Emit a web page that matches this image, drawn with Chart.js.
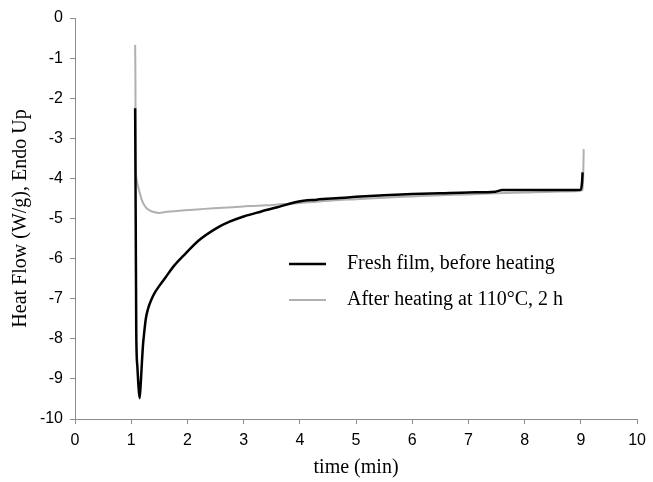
<!DOCTYPE html>
<html>
<head>
<meta charset="utf-8">
<script src="https://cdn.jsdelivr.net/npm/chart.js@4/dist/chart.umd.min.js"></script>
<style>
  html, body { margin: 0; padding: 0; background: #fff; }
</style>
</head>
<body>
<canvas id="chart" width="653" height="482"></canvas>
<script>
// DSC traces, heat flow vs time
const freshTime = [1.07, 1.08, 1.09, 1.11, 1.13, 1.15, 1.17, 1.19, 1.21, 1.23, 1.26, 1.30, 1.35, 1.42, 1.50, 1.61, 1.75, 1.97, 2.20, 2.52, 2.75, 3.00, 3.30, 3.60, 3.96, 4.30, 4.70, 5.00, 5.50, 6.00, 6.50, 7.00, 7.48, 7.60, 8.00, 8.50, 9.00, 9.02, 9.03];
const freshFlow = [-2.25, -5.0, -7.86, -8.7, -9.2, -9.48, -9.1, -8.6, -8.15, -7.86, -7.5, -7.25, -7.05, -6.85, -6.68, -6.47, -6.2, -5.87, -5.55, -5.24, -5.08, -4.95, -4.83, -4.72, -4.58, -4.53, -4.49, -4.46, -4.42, -4.39, -4.37, -4.35, -4.33, -4.29, -4.29, -4.29, -4.28, -4.1, -3.85];

const heatedTime = [1.07, 1.075, 1.08, 1.09, 1.11, 1.15, 1.20, 1.26, 1.32, 1.40, 1.50, 1.60, 1.75, 1.90, 2.10, 2.30, 2.55, 2.80, 3.10, 3.40, 3.70, 3.96, 4.30, 4.70, 5.00, 5.50, 6.00, 6.50, 7.00, 7.50, 8.00, 8.50, 8.90, 9.02, 9.04, 9.05];
const heatedFlow = [-0.67, -1.5, -3.6, -3.97, -4.12, -4.35, -4.58, -4.72, -4.79, -4.84, -4.86, -4.84, -4.82, -4.80, -4.78, -4.76, -4.74, -4.72, -4.69, -4.67, -4.64, -4.62, -4.58, -4.54, -4.52, -4.48, -4.45, -4.42, -4.40, -4.37, -4.35, -4.33, -4.32, -4.30, -4.0, -3.27];

const seriesNames = ["Fresh film, before heating", "After heating at 110\u00B0C, 2 h"];
const seriesColors = ["#000000", "#b0b0b0"];

const toPoints = (xs, ys) => xs.map((x, i) => ({ x, y: ys[i] }));

const serif = "'Liberation Serif', 'Times New Roman', serif";
const sans = "'Liberation Sans', Arial, sans-serif";
const axisGrey = "#8c8c8c";

// legend sits inside the plot, drawn by hand
const insideLegend = {
  id: "insideLegend",
  afterDraw(chart) {
    const ctx = chart.ctx;
    const rows = [264, 300];
    ctx.save();
    chart.data.datasets.forEach((ds, i) => {
      const y = rows[i];
      ctx.strokeStyle = ds.borderColor;
      ctx.lineWidth = ds.borderWidth;
      ctx.beginPath();
      ctx.moveTo(289, y);
      ctx.lineTo(326, y);
      ctx.stroke();
      ctx.fillStyle = "#000";
      ctx.font = "20px " + serif;
      ctx.textBaseline = "middle";
      ctx.fillText(ds.label, 347, y);
    });
    ctx.restore();
  }
};

new Chart(document.getElementById("chart"), {
  type: "scatter",
  data: {
    datasets: [
      {
        label: seriesNames[0],
        data: toPoints(freshTime, freshFlow),
        showLine: true,
        borderColor: seriesColors[0],
        borderWidth: 2.5,
        pointRadius: 0,
        cubicInterpolationMode: "monotone"
      },
      {
        label: seriesNames[1],
        data: toPoints(heatedTime, heatedFlow),
        showLine: true,
        borderColor: seriesColors[1],
        borderWidth: 2,
        pointRadius: 0,
        cubicInterpolationMode: "monotone"
      }
    ]
  },
  options: {
    responsive: false,
    animation: false,
    layout: { padding: { top: 18, right: 10, left: 0, bottom: 0 } },
    plugins: {
      legend: { display: false },
      tooltip: { enabled: false }
    },
    scales: {
      x: {
        type: "linear",
        min: 0,
        max: 10,
        afterFit: s => { s.height = 63; },
        ticks: { stepSize: 1, color: "#000", font: { family: sans, size: 16 }, padding: 7, maxRotation: 0 },
        grid: { drawOnChartArea: false, tickLength: 5, color: axisGrey },
        border: { color: axisGrey, width: 1 },
        title: { display: true, text: "time (min)", color: "#000", font: { family: serif, size: 20 }, padding: { top: 0, bottom: 2 } }
      },
      y: {
        min: -10,
        max: 0,
        afterFit: s => { s.width = 75; },
        ticks: { stepSize: 1, color: "#000", font: { family: sans, size: 16 }, padding: 7 },
        grid: { drawOnChartArea: false, tickLength: 5, color: axisGrey },
        border: { color: axisGrey, width: 1 },
        title: { display: true, text: "Heat Flow (W/g), Endo Up", color: "#000", font: { family: serif, size: 20 }, padding: { top: 9, bottom: 0 } }
      }
    }
  },
  plugins: [insideLegend]
});
</script>
</body>
</html>
